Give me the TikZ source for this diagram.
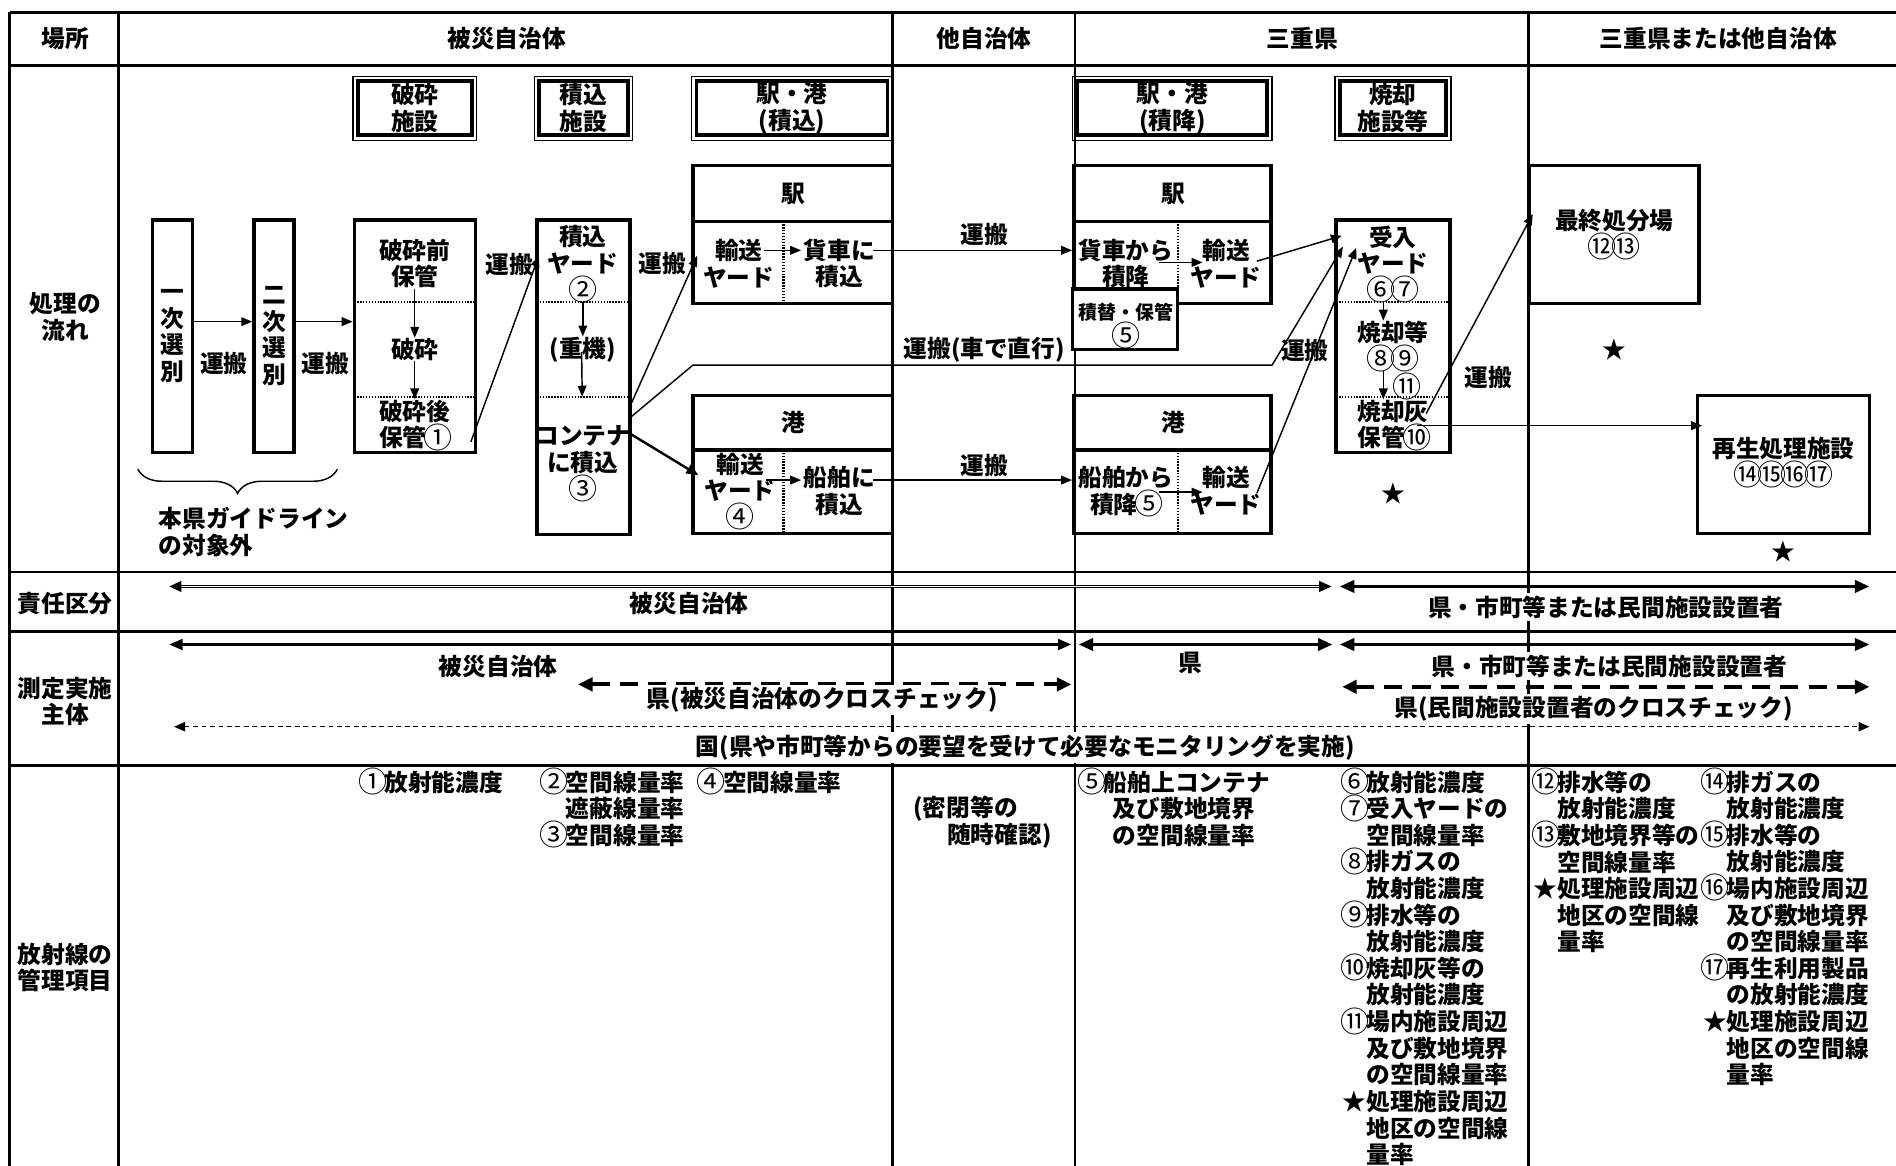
\documentclass[tikz,border=0pt]{standalone}
\usepackage{fontspec}
\setmainfont{Noto Sans CJK JP}
\usetikzlibrary{arrows.meta,calc,fit,decorations.pathreplacing}
\newcommand\fsz{\bfseries\fontsize{9.8}{11}\selectfont}
\newcommand\fss{\bfseries\fontsize{7.8}{10.5}\selectfont}
\newcommand\myind{\hspace*{1em}}
\newcommand\cn[1]{\makebox[1em]{\raisebox{-0.6pt}[0.8em][0.1em]{\mdseries\fontsize{12}{11}\selectfont #1}}}
\begin{document}
\begin{tikzpicture}[x=0.5pt,y=-0.5pt,
 txt/.style={font=\fsz, inner sep=0pt, align=center},
 stxt/.style={font=\fss, inner sep=0pt, align=center},
 ltxt/.style={font=\fsz, inner sep=0pt, align=left, anchor=north west},
 wtxt/.style={font=\fsz, inner sep=1pt, align=center, fill=white},
 tline/.style={line width=1.2pt},
 bx/.style={draw, line width=1.4pt, inner sep=0pt},
 facout/.style={draw, line width=0.5pt, inner sep=0pt},
 facin/.style={draw, line width=1.6pt, inner sep=0pt},
 dv/.style={line width=0.9pt, dash pattern=on 0.6pt off 0.6pt},
 ar/.style={line width=0.6pt, -{Triangle[length=4.5pt,width=3.6pt]}},
 arb/.style={line width=1pt, -{Triangle[length=5pt,width=4pt]}},
 dblar/.style={double, line width=0.45pt, double distance=0.5pt, {Triangle[length=5pt,width=4.5pt]}-{Triangle[length=5pt,width=4.5pt]}},
 thkar/.style={line width=1.4pt, {Triangle[length=6pt,width=5pt]}-{Triangle[length=6pt,width=5pt]}},
 midar/.style={line width=0.9pt, {Triangle[length=5.5pt,width=4.5pt]}-{Triangle[length=5.5pt,width=4.5pt]}},
 dashar/.style={line width=1.6pt, dash pattern=on 7.5pt off 4.2pt, {Triangle[length=6pt,width=5.5pt]}-{Triangle[length=6pt,width=5.5pt]}},
 dotar/.style={line width=0.6pt, dash pattern=on 2pt off 1.5pt, {Triangle[length=4.5pt,width=3.8pt]}-{Triangle[length=4.5pt,width=3.8pt]}}
]
\useasboundingbox (0,0) rectangle (1568,964);
\fill[white] (0,0) rectangle (1568,964);
% ---------- table grid ----------
\foreach \y in {10,54,473,522,633} \draw[tline] (8,\y) -- (1568,\y);
\foreach \x in {8,98,738,889,1264} \draw[tline] (\x,10) -- (\x,964);
% ---------- header ----------
\node[txt] (h0) at (54,32) {場所};
\node[txt] (h1) at (419,32) {被災自治体};
\node[txt] (h2) at (814,32) {他自治体};
\node[txt] (h3) at (1077,32) {三重県};
\node[txt] (h4) at (1421,32) {三重県または他自治体};
% ---------- left labels ----------
\node[txt] (l1) at (54,262) {処理の\\流れ};
\node[txt] (l2) at (54,499) {責任区分};
\node[txt] (l3) at (54,580) {測定実施\\主体};
\node[txt] (l4) at (54,800) {放射線の\\管理項目};
% ---------- facility header boxes ----------
\node[facout, fit={(292,63) (394,116)}] (f1) {};
\node[facin, fit={(296,67) (390,112)}] (f1i) {};
\node[txt] (f1t) at (f1) {破砕\\施設};
\node[facout, fit={(442,63) (523,116)}] (f2) {};
\node[facin, fit={(446,67) (519,112)}] (f2i) {};
\node[txt] (f2t) at (f2) {積込\\施設};
\node[facout, fit={(572,63) (738,116)}] (f3) {};
\node[facin, fit={(576,67) (734,112)}] (f3i) {};
\node[txt] (f3t) at (f3) {駅・港\\(積込)};
\node[facout, fit={(887,63) (1052,116)}] (f4) {};
\node[facin, fit={(891,67) (1048,112)}] (f4i) {};
\node[txt] (f4t) at (f4) {駅・港\\(積降)};
\node[facout, fit={(1104,63) (1200,116)}] (f5) {};
\node[facin, fit={(1108,67) (1196,112)}] (f5i) {};
\node[txt] (f5t) at (f5) {焼却\\施設等};
% ---------- flow boxes ----------
\node[bx, fit={(126,182) (159,374)}] (b1) {};
\node[txt] (b1t) at (b1) {一\\次\\選\\別};
\node[bx, fit={(210,182) (243,374)}] (b2) {};
\node[txt] (b2t) at (b2) {二\\次\\選\\別};
\node[bx, fit={(293,182) (393,374)}] (b3) {};
\draw[dv] (293,250) -- (393,250);
\draw[dv] (293,328) -- (393,328);
\node[txt] (b3a) at (343,218) {破砕前\\保管};
\node[txt] (b3b) at (343,289) {破砕};
\node[txt] (b3c) at (343,351) {破砕後\\保管\cn{①}};
\node[bx, fit={(444,182) (521,442)}] (b4) {};
\draw[dv] (444,250) -- (521,250);
\draw[dv] (444,328) -- (521,328);
\node[txt] (b4a) at (482,218) {積込\\ヤード\\\cn{②}};
\node[txt] (b4b) at (482,289) {(重機)};
\node[txt] (b4c) at (482,383) {コンテナ\\に積込\\\cn{③}};
% station / port (loading)
\node[bx, fit={(573,137) (738,251)}] (s1) {};
\draw[line width=1.4pt] (573,183) -- (738,183);
\draw[dv] (648,183) -- (648,251);
\node[txt] (s1h) at (656,160) {駅};
\node[txt] (s1a) at (611,218) {輸送\\ヤード};
\node[txt] (s1b) at (694,218) {貨車に\\積込};
\node[bx, fit={(573,327) (738,441)}] (p1) {};
\draw[line width=1.4pt] (573,372) -- (738,372);
\draw[dv] (648,372) -- (648,441);
\node[txt] (p1h) at (656,349) {港};
\node[txt] (p1a) at (612,406) {輸送\\ヤード\\\cn{④}};
\node[txt] (p1b) at (694,406) {船舶に\\積込};
% station / port (unloading)
\node[bx, fit={(888,137) (1051,251)}] (s2) {};
\draw[line width=1.4pt] (888,183) -- (1051,183);
\draw[dv] (974,183) -- (974,251);
\node[txt] (s2h) at (970,160) {駅};
\node[txt] (s2a) at (931,218) {貨車から\\積降};
\node[txt] (s2b) at (1014,218) {輸送\\ヤード};
\node[bx, fill=white, fit={(887,239) (974,289)}] (t1) {};
\node[stxt] (t1t) at (931,269) {積替・保管\\\cn{⑤}};
\node[bx, fit={(888,327) (1051,441)}] (p2) {};
\draw[line width=1.4pt] (888,372) -- (1051,372);
\draw[dv] (974,372) -- (974,441);
\node[txt] (p2h) at (970,349) {港};
\node[txt] (p2a) at (931,406) {船舶から\\積降\cn{⑤}};
\node[txt] (p2b) at (1014,406) {輸送\\ヤード};
% incineration
\node[bx, fit={(1105,182) (1199,374)}] (r) {};
\draw[dv] (1105,250) -- (1199,250);
\draw[dv] (1105,328) -- (1199,328);
\node[txt] (r1) at (1152,218) {受入\\ヤード\\\cn{⑥}\cn{⑦}};
\node[txt] (r2) at (1152,286) {焼却等\\\cn{⑧}\cn{⑨}};
\node[txt] (r3) at (1164,321) {\cn{⑪}};
\node[txt] (r4) at (1152,351) {焼却灰\\保管\cn{⑩}};
% final / recycling
\node[bx, fit={(1265,137) (1405,251)}] (fin) {};
\node[txt] (fint) at (1335,193) {最終処分場\\\cn{⑫}\cn{⑬}};
\node[bx, fit={(1404,327) (1546,441)}] (rec) {};
\node[txt] (rect) at (1475,382) {再生処理施設\\\cn{⑭}\cn{⑮}\cn{⑯}\cn{⑰}};
% stars
\node[txt] (st1) at (1335,289) {★};
\node[txt] (st2) at (1152,408) {★};
\node[txt] (st3) at (1475,456) {★};
% labels 運搬
\node[txt] (n1) at (185,301) {運搬};
\node[txt] (n2) at (269,301) {運搬};
\node[txt] (n3) at (421,219) {運搬};
\node[txt] (n4) at (548,218) {運搬};
\node[txt] (n5) at (814,194) {運搬};
\node[txt] (n6) at (814,385) {運搬};
\node[txt] (n7) at (1079,290) {運搬};
\node[txt] (n8) at (1231,312) {運搬};
\node[txt] (n9) at (814,289) {運搬(車で直行)};
% brace
\coordinate (brA) at (114,388);
\coordinate (brB) at (279,388);
\draw[line width=0.6pt, decorate, decoration={brace, mirror, amplitude=10pt}] (brA) -- (brB);
\node[txt, align=left, anchor=west] (gl) at (131,440) {本県ガイドライン\\の対象外};
% ---------- flow arrows ----------
\draw[ar] ($(b1.east)+(0,-12)$) -- ($(b2.west)+(0,-12)$);
\draw[ar] ($(b2.east)+(0,-12)$) -- ($(b3.west)+(0,-12)$);
\draw[ar] (b3a.south) -- (b3b.north);
\draw[ar] (b3b.south) -- (b3c.north);
\draw[ar] ($(b3.south east)+(-5,-10)$) -- ($(b4.north west)+(3,31)$);
\draw[ar] (b4a.south) -- (b4b.north);
\draw[ar] ($(b4b.north)+(-1,13)$) -- ($(b4.center)+(-1,16)$);
\draw[ar] ($(b4.east)+(0,21)$) -- ($(s1.south west)+(5,-41)$);
\draw[arb] ($(b4.east)+(-4,45)$) -- ($(p1.west)+(6,9)$);
\coordinate (c1) at (573,302);
\coordinate (c2) at (1052,302);
\draw[ar] ($(b4.east)+(-2,34)$) -- (c1) -- (c2) -- ($(r.west)+(7,-74)$);
\draw[ar] ($(s1.center)+(-24,13)$) -- ($(s1.center)+(7,13)$);
\draw[ar] ($(p1.center)+(-22,13)$) -- ($(p1.center)+(7,13)$);
\draw[ar] ($(s1b.east)+(-2,-11)$) -- ($(s2.west)+(0,13)$);
\draw[ar] ($(p1b.east)+(-2,-9)$) -- ($(p2.west)+(0,13)$);
\draw[ar] ($(s2.center)+(-11,23)$) -- ($(s2.center)+(25,23)$);
\draw[ar] ($(p2.center)+(-11,23)$) -- ($(p2.center)+(25,23)$);
\draw[ar] ($(s2.east)+(-13,22)$) -- ($(r.west)+(6,-83)$);
\draw[ar] ($(p2.east)+(-13,24)$) -- ($(r.west)+(18,-73)$);
\draw[ar] ($(r1.south)+(-8,0)$) -- ($(r2.north)+(-8,0)$);
\draw[ar] ($(r2.south)+(-8,0)$) -- ($(r4.north)+(-8,0)$);
\draw[ar] ($(r.east)+(-21,64)$) -- ($(fin.west)+(4,-17)$);
\draw[ar] ($(r.center)+(20,74)$) -- ($(rec.west)+(5,-32)$);
% ---------- responsibility row ----------
\coordinate (k1a) at (140,485); \coordinate (k1b) at (1101,485);
\coordinate (k2a) at (1108,485); \coordinate (k2b) at (1546,485);
\draw[dblar] (k1a) -- (k1b);
\draw[thkar] (k2a) -- (k2b);
\node[wtxt] (kt1) at (570,499) {被災自治体};
\node[wtxt] (kt2) at (1328,502) {県・市町等または民間施設設置者};
% ---------- measurement row ----------
\coordinate (m1a) at (140,533); \coordinate (m1b) at (886,533);
\coordinate (m2a) at (892,533); \coordinate (m2b) at (1102,533);
\coordinate (m3a) at (1108,533); \coordinate (m3b) at (1546,533);
\coordinate (d1a) at (478,566); \coordinate (d1b) at (886,566);
\coordinate (d2a) at (1110,568); \coordinate (d2b) at (1546,568);
\coordinate (q1a) at (144,601); \coordinate (q1b) at (1546,601);
\draw[midar] (m1a) -- (m1b);
\draw[thkar] (m2a) -- (m2b);
\draw[thkar] (m3a) -- (m3b);
\draw[dashar] (d1a) -- (d1b);
\draw[dashar] (d2a) -- (d2b);
\draw[dotar] (q1a) -- (q1b);
\node[wtxt] (mt1) at (412,551) {被災自治体};
\node[wtxt] (mt2) at (984,548) {県};
\node[wtxt] (mt3) at (1331,551) {県・市町等または民間施設設置者};
\node[wtxt] (mt4) at (680,579) {県(被災自治体のクロスチェック)};
\node[wtxt] (mt5) at (1318,586) {県(民間施設設置者のクロスチェック)};
\node[wtxt] (mt6) at (848,618) {国(県や市町等からの要望を受けて必要なモニタリングを実施)};
% ---------- radiation management items ----------
\node[ltxt] (v1) at (298,637) {\cn{①}放射能濃度};
\node[ltxt] (v2) at (448,637) {\cn{②}空間線量率\\\myind 遮蔽線量率\\\cn{③}空間線量率};
\node[ltxt] (v3) at (578,637) {\cn{④}空間線量率};
\node[ltxt] (v4) at (755,658) {(密閉等の\\\hspace*{14pt}随時確認)};
\node[ltxt] (v5) at (893,637) {\cn{⑤}船舶上コンテナ\\\hspace*{13.5pt}及び敷地境界\\\hspace*{13.5pt}の空間線量率};
\node[ltxt] (v6) at (1110,637) {\cn{⑥}放射能濃度\\\cn{⑦}受入ヤードの\\\myind 空間線量率\\\cn{⑧}排ガスの\\\myind 放射能濃度\\\cn{⑨}排水等の\\\myind 放射能濃度\\\cn{⑩}焼却灰等の\\\myind 放射能濃度\\\cn{⑪}場内施設周辺\\\myind 及び敷地境界\\\myind の空間線量率\\★処理施設周辺\\\myind 地区の空間線\\\myind 量率};
\node[ltxt] (v7) at (1268,637) {\cn{⑫}排水等の\\\myind 放射能濃度\\\cn{⑬}敷地境界等の\\\myind 空間線量率\\★処理施設周辺\\\myind 地区の空間線\\\myind 量率};
\node[ltxt] (v8) at (1408,637) {\cn{⑭}排ガスの\\\myind 放射能濃度\\\cn{⑮}排水等の\\\myind 放射能濃度\\\cn{⑯}場内施設周辺\\\myind 及び敷地境界\\\myind の空間線量率\\\cn{⑰}再生利用製品\\\myind の放射能濃度\\★処理施設周辺\\\myind 地区の空間線\\\myind 量率};
\end{tikzpicture}
\end{document}
